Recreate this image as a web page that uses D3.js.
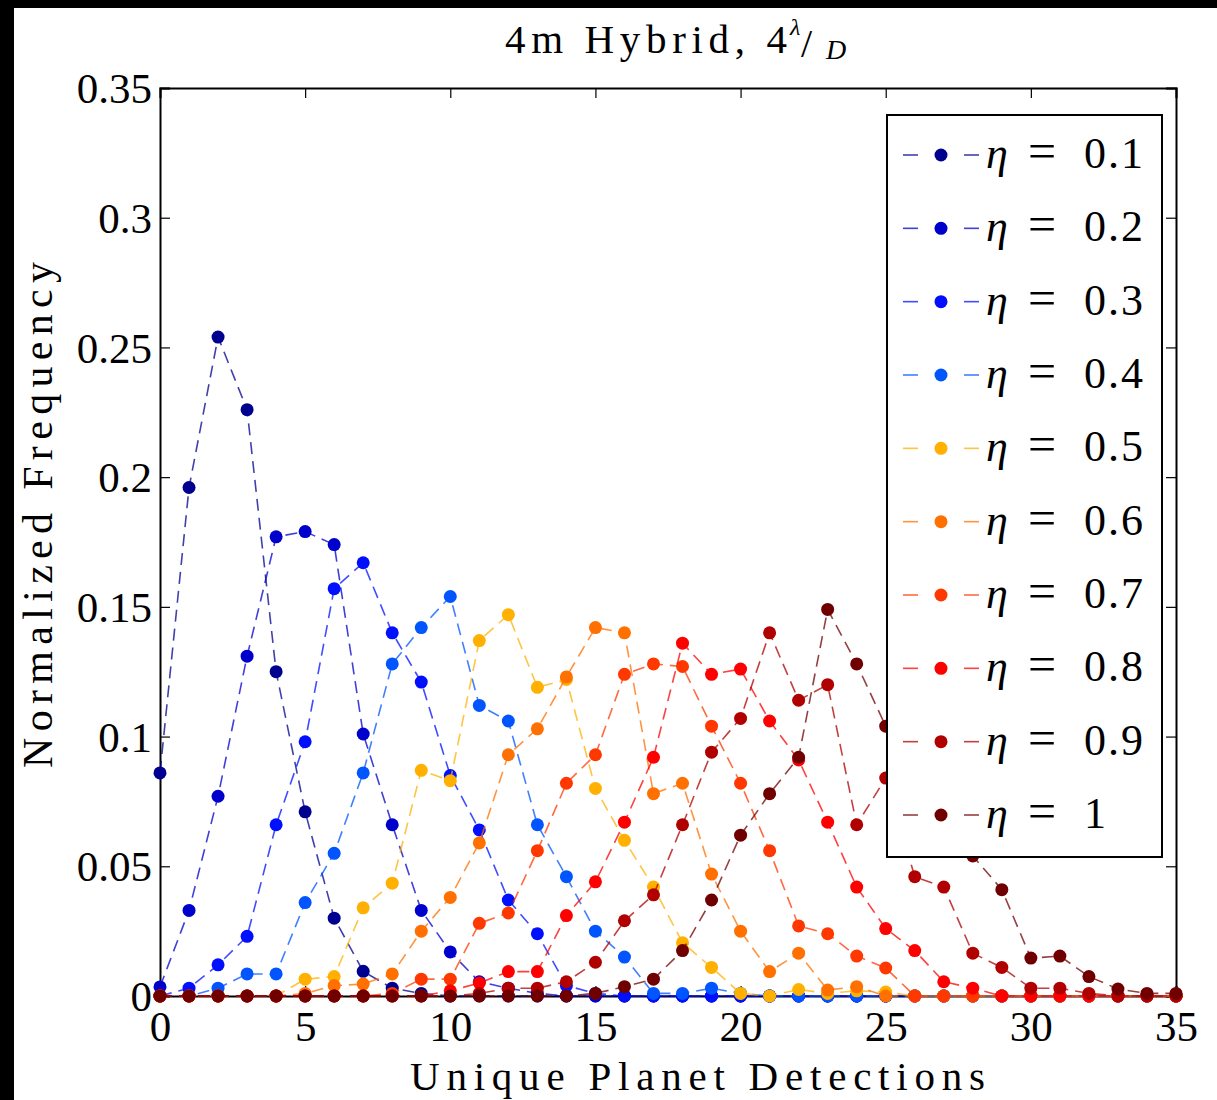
<!DOCTYPE html>
<html><head><meta charset="utf-8">
<script src="https://cdn.jsdelivr.net/npm/d3@7"></script>
<style>body{margin:0;background:#fff;} svg{display:block;} svg text{font-family:"Liberation Serif","Times New Roman","DejaVu Serif",serif;}</style>
</head><body>
<svg id="c" width="1217" height="1100"></svg>
<script>
const xValues = d3.range(0, 36);
const etaLabels = ["0.1","0.2","0.3","0.4","0.5","0.6","0.7","0.8","0.9","1"];
const colors = ["#000090","#0000CC","#0010FF","#0055FF","#FFB000","#FF7000","#FF3800","#FF0000","#B00000","#700000"];
const eta01 = [0.086,0.196,0.254,0.226,0.125,0.071,0.030,0.0095,0.003,0.001,0,0,0,0,0,0,0,0,0,0,0,0,0,0,0,0,0,0,0,0,0,0,0,0,0,0];
const eta02 = [0.0035,0.033,0.077,0.131,0.177,0.179,0.174,0.101,0.066,0.033,0.017,0.0055,0.003,0.001,0,0,0,0,0,0,0,0,0,0,0,0,0,0,0,0,0,0,0,0,0,0];
const eta03 = [0,0.003,0.012,0.023,0.066,0.098,0.157,0.167,0.140,0.121,0.085,0.064,0.037,0.024,0.004,0.001,0,0,0,0,0,0,0,0,0,0,0,0,0,0,0,0,0,0,0,0];
const eta04 = [0,0,0.003,0.0085,0.0085,0.036,0.055,0.086,0.128,0.142,0.154,0.112,0.106,0.066,0.046,0.025,0.015,0.001,0.001,0.003,0.001,0,0,0,0,0,0,0,0,0,0,0,0,0,0,0];
const eta05 = [0,0,0,0,0,0.0065,0.0075,0.034,0.0435,0.087,0.083,0.137,0.147,0.119,0.122,0.080,0.060,0.042,0.0205,0.011,0.001,0,0.0025,0.001,0.002,0.0015,0,0,0,0,0,0,0,0,0,0];
const eta06 = [0,0,0,0,0,0.001,0.004,0.0046,0.0085,0.025,0.038,0.059,0.093,0.103,0.123,0.142,0.140,0.078,0.082,0.047,0.025,0.0094,0.0165,0.0023,0.0036,0,0,0,0,0,0,0,0,0,0,0];
const eta07 = [0,0,0,0,0,0,0,0,0.001,0.0065,0.0065,0.028,0.032,0.056,0.082,0.093,0.124,0.128,0.127,0.104,0.082,0.056,0.027,0.024,0.0154,0.0108,0,0,0,0,0,0,0,0,0,0];
const eta08 = [0,0,0,0,0,0,0,0,0,0,0.002,0.005,0.0094,0.0094,0.031,0.044,0.067,0.092,0.136,0.124,0.126,0.106,0.091,0.067,0.042,0.026,0.0175,0.0055,0.003,0,0,0,0,0,0,0];
const eta09 = [0,0,0,0,0,0,0,0,0,0,0,0.001,0.003,0.003,0.0055,0.013,0.029,0.039,0.066,0.094,0.107,0.140,0.114,0.120,0.066,0.084,0.046,0.042,0.0165,0.011,0.003,0.003,0.001,0,0,0];
const eta10 = [0,0,0,0,0,0,0,0,0,0,0,0,0,0,0,0.001,0.0036,0.0065,0.0175,0.037,0.062,0.078,0.092,0.149,0.128,0.104,0.085,0.070,0.054,0.041,0.0146,0.0154,0.0075,0.0027,0.001,0.001];
const seriesValues = [eta01,eta02,eta03,eta04,eta05,eta06,eta07,eta08,eta09,eta10];
const xTicks = [0,5,10,15,20,25,30,35];
const yTicks = [0,0.05,0.1,0.15,0.2,0.25,0.3,0.35];
const yTickLabels = ["0","0.05","0.1","0.15","0.2","0.25","0.3","0.35"];

const svg = d3.select("#c");
const L = 160, R = 1176, T = 88, B = 996;
const x = d3.scaleLinear().domain([0,35]).range([L,R]);
const y = d3.scaleLinear().domain([0,0.35]).range([B,T]);

svg.append("rect").attr("width",1217).attr("height",1100).attr("fill","#fff");
svg.append("rect").attr("x",0).attr("y",0).attr("width",1217).attr("height",8).attr("fill","#000");
svg.append("rect").attr("x",0).attr("y",0).attr("width",14).attr("height",1100).attr("fill","#000");

const SERIF = '"Liberation Serif","Times New Roman","DejaVu Serif",serif';

const gx = svg.append("g").attr("transform",`translate(0,${B})`)
  .call(d3.axisBottom(x).tickValues(xTicks).tickSize(-10).tickPadding(14).tickFormat(d3.format("d")));
const gxt = svg.append("g").attr("transform",`translate(0,${T})`)
  .call(d3.axisTop(x).tickValues(xTicks).tickSize(-10).tickFormat(""));
const gy = svg.append("g").attr("transform",`translate(${L},0)`)
  .call(d3.axisLeft(y).tickValues(yTicks).tickSize(-10).tickPadding(8).tickFormat((d,i)=>yTickLabels[i]));
const gyr = svg.append("g").attr("transform",`translate(${R},0)`)
  .call(d3.axisRight(y).tickValues(yTicks).tickSize(-10).tickFormat(""));
[gx,gxt,gy,gyr].forEach(g=>{
  g.attr("font-family",SERIF).attr("font-size",43);
  g.selectAll("path.domain").attr("stroke","#000").attr("stroke-width",2);
  g.selectAll(".tick line").attr("stroke","#000").attr("stroke-width",1.2);
  g.selectAll("text").style("font-family",SERIF).style("font-size","43px").attr("fill","#000");
});
gx.selectAll("text").attr("dy","0.71em");
gy.selectAll("text").attr("dy","0.34em");

const line = d3.line().x((d,i)=>x(xValues[i])).y(d=>y(d));
seriesValues.forEach((vals,si)=>{
  const g = svg.append("g");
  g.append("path").datum(vals).attr("d",line).attr("fill","none")
    .attr("stroke",colors[si]).attr("stroke-opacity",0.75).attr("stroke-width",1.6)
    .attr("stroke-dasharray","12,7");
  g.selectAll("circle").data(vals).enter().append("circle")
    .attr("cx",(d,i)=>x(xValues[i])).attr("cy",d=>y(d)).attr("r",6.5).attr("fill",colors[si]);
});

// title
svg.append("text").attr("x",505).attr("y",53).style("font-family",SERIF).style("font-size","41px")
  .attr("textLength",282).attr("lengthAdjust","spacing").text("4m Hybrid, 4");
svg.append("text").attr("x",790).attr("y",35).style("font-family",SERIF).style("font-style","italic")
  .style("font-size","24px").text("λ");
svg.append("text").attr("x",801).attr("y",57).style("font-family",SERIF).style("font-size","40px").text("/");
svg.append("text").attr("x",826).attr("y",59).style("font-family",SERIF).style("font-style","italic")
  .style("font-size","28px").text("D");

// axis labels
svg.append("text").attr("x",410).attr("y",1090).style("font-family",SERIF).style("font-size","41px")
  .attr("textLength",575).attr("lengthAdjust","spacing").text("Unique Planet Detections");
svg.append("text").attr("transform","translate(52,768) rotate(-90)").style("font-family",SERIF)
  .style("font-size","42px").attr("textLength",506).attr("lengthAdjust","spacing").text("Normalized Frequency");

// legend
const lg = svg.append("g");
lg.append("rect").attr("x",887).attr("y",115).attr("width",275).attr("height",742)
  .attr("fill","#fff").attr("stroke","#000").attr("stroke-width",2);
const legendY = d3.scaleLinear().domain([0,9]).range([155,815]);
etaLabels.forEach((lab,i)=>{
  const yy = legendY(i);
  lg.append("line").attr("x1",903).attr("x2",918).attr("y1",yy).attr("y2",yy)
    .attr("stroke",colors[i]).attr("stroke-opacity",0.75).attr("stroke-width",1.6);
  lg.append("line").attr("x1",964).attr("x2",979).attr("y1",yy).attr("y2",yy)
    .attr("stroke",colors[i]).attr("stroke-opacity",0.75).attr("stroke-width",1.6);
  lg.append("circle").attr("cx",941).attr("cy",yy).attr("r",6.5).attr("fill",colors[i]);
  const t = lg.append("text").attr("y",yy+13).style("font-family",SERIF).style("font-size","44px").attr("fill","#000");
  t.append("tspan").attr("x",986).style("font-style","italic").text("η");
  t.append("tspan").attr("x",1028).style("font-size","50px").text("=");
  t.append("tspan").attr("x",1084).attr("letter-spacing",2).text(lab);
});
</script>
</body></html>
